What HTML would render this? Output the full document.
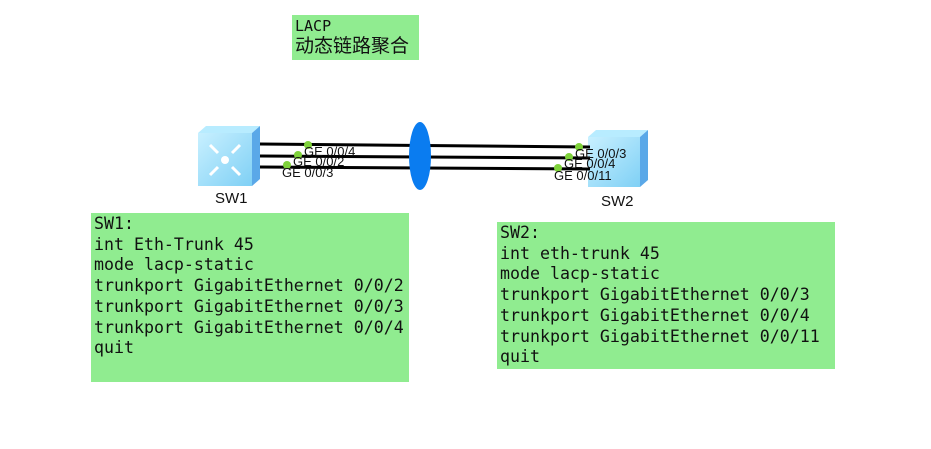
<!DOCTYPE html><html><head><style>
body{margin:0;width:931px;height:449px;background:#fff;position:relative;overflow:hidden;font-family:"Liberation Sans",sans-serif}
.box{position:absolute;background:#90ec90;font-family:"DejaVu Sans Mono","Liberation Mono","Noto Sans CJK SC",monospace;font-size:16.6px;line-height:20.7px;color:#111;padding:1px 3px;box-sizing:border-box;white-space:pre}
.lbl{position:absolute;font-size:13px;color:#111}
</style></head><body>
<div class="box" style="left:292px;top:15px;width:127px;height:45px;line-height:20px;font-size:15px">LACP
<span style="font-size:19px">动态链路聚合</span></div>
<div class="box" style="left:91px;top:213px;width:318px;height:169px">SW1:
int Eth-Trunk 45
mode lacp-static
trunkport GigabitEthernet 0/0/2
trunkport GigabitEthernet 0/0/3
trunkport GigabitEthernet 0/0/4
quit</div>
<div class="box" style="left:497px;top:222px;width:338px;height:147px">SW2:
int eth-trunk 45
mode lacp-static
trunkport GigabitEthernet 0/0/3
trunkport GigabitEthernet 0/0/4
trunkport GigabitEthernet 0/0/11
quit</div>
<svg width="931" height="449" style="position:absolute;left:0;top:0">
<defs><linearGradient id="g" x1="0" y1="0" x2="1" y2="1"><stop offset="0" stop-color="#c8f0ff"/><stop offset="1" stop-color="#7fd0f5"/></linearGradient></defs>
<g>
<polygon points="198,133 206,126 260,126 252,133" fill="#b8ecff"/>
<polygon points="252,133 260,126 260,179 252,186" fill="#5aa8e8"/>
<rect x="198" y="133" width="54" height="53" fill="url(#g)"/>
<circle cx="225" cy="160" r="4" fill="#fff"/>
<g stroke="#fff" stroke-width="3" fill="none">
<path d="M210,145 l8,8 M240,145 l-8,8 M210,175 l8,-8 M240,175 l-8,-8"/>
</g>
</g>
<g>
<polygon points="588,137 596,130 648,130 640,137" fill="#b8ecff"/>
<polygon points="640,137 648,130 648,180 640,187" fill="#5aa8e8"/>
<rect x="588" y="137" width="52" height="50" fill="url(#g)"/>
</g>
<g stroke="#000" stroke-width="3">
<line x1="260" y1="144" x2="590" y2="147"/>
<line x1="260" y1="156" x2="590" y2="158"/>
<line x1="260" y1="167" x2="590" y2="169"/>
</g>
<ellipse cx="420" cy="156" rx="11" ry="34" fill="#0a7cf0"/>
<g fill="#7ed23a">
<circle cx="308" cy="145" r="4"/><circle cx="298" cy="155" r="4"/><circle cx="287" cy="165" r="4"/>
<circle cx="579" cy="147" r="4"/><circle cx="569" cy="157" r="4"/><circle cx="558" cy="168" r="4"/>
</g>
</svg>
<div class="lbl" style="left:304px;top:144px">GE 0/0/4</div>
<div class="lbl" style="left:293px;top:154px">GE 0/0/2</div>
<div class="lbl" style="left:282px;top:165px">GE 0/0/3</div>
<div class="lbl" style="left:575px;top:146px">GE 0/0/3</div>
<div class="lbl" style="left:564px;top:156px">GE 0/0/4</div>
<div class="lbl" style="left:554px;top:168px">GE 0/0/11</div>
<div class="lbl" style="left:215px;top:190px;font-size:15px">SW1</div>
<div class="lbl" style="left:601px;top:193px;font-size:15px">SW2</div>
</body></html>
